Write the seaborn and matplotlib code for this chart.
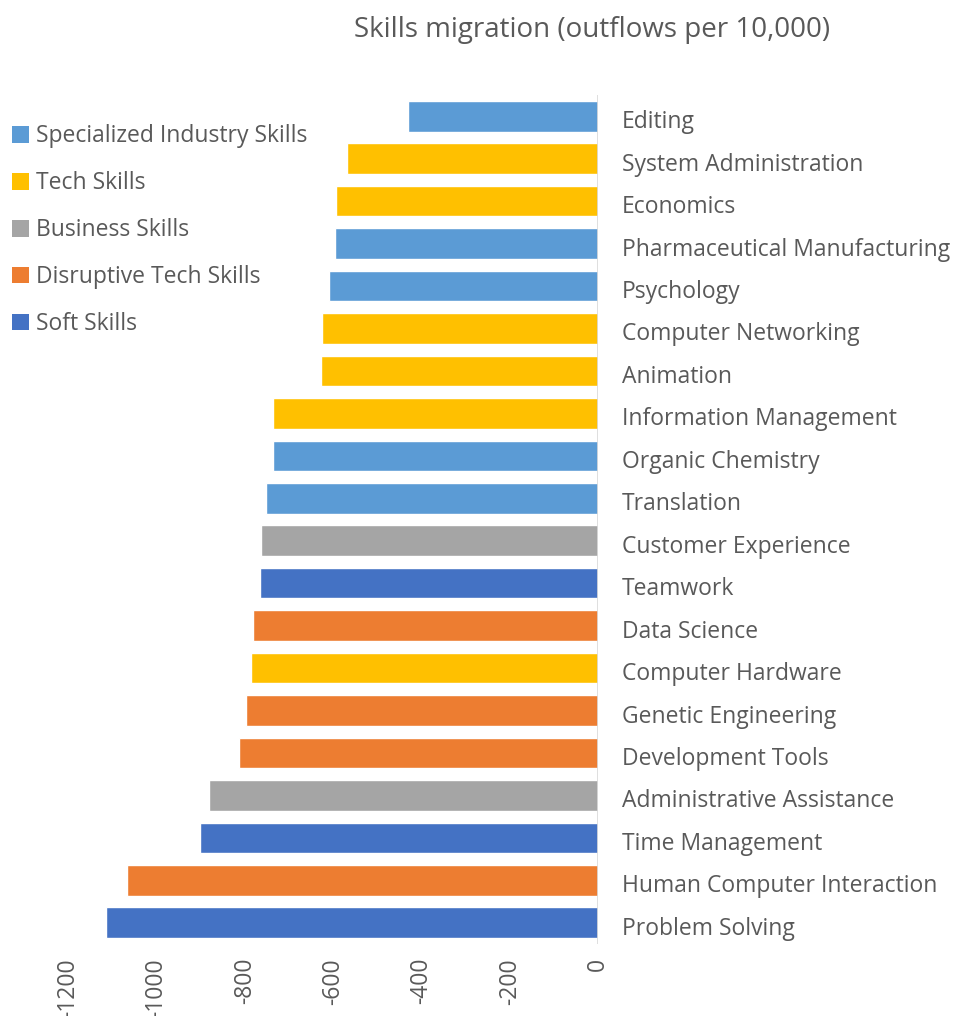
import matplotlib
matplotlib.use("Agg")
import matplotlib.pyplot as plt
import matplotlib.transforms as mtransforms
from matplotlib.patches import Patch
import seaborn as sns
import pandas as pd

skills = [
    "Editing", "System Administration", "Economics", "Pharmaceutical Manufacturing",
    "Psychology", "Computer Networking", "Animation", "Information Management",
    "Organic Chemistry", "Translation", "Customer Experience", "Teamwork",
    "Data Science", "Computer Hardware", "Genetic Engineering", "Development Tools",
    "Administrative Assistance", "Time Management", "Human Computer Interaction",
    "Problem Solving",
]
outflows = [
    -431, -569, -594, -596, -610, -624, -628, -735, -735, -751,
    -764, -766, -780, -785, -798, -812, -880, -900, -1066, -1113,
]
groups = [
    "Specialized Industry Skills", "Tech Skills", "Tech Skills", "Specialized Industry Skills",
    "Specialized Industry Skills", "Tech Skills", "Tech Skills", "Tech Skills",
    "Specialized Industry Skills", "Specialized Industry Skills", "Business Skills", "Soft Skills",
    "Disruptive Tech Skills", "Tech Skills", "Disruptive Tech Skills", "Disruptive Tech Skills",
    "Business Skills", "Soft Skills", "Disruptive Tech Skills", "Soft Skills",
]
group_order = ["Specialized Industry Skills", "Tech Skills", "Business Skills",
               "Disruptive Tech Skills", "Soft Skills"]
group_colors = ["#5B9BD5", "#FFC000", "#A5A5A5", "#ED7D31", "#4472C4"]
x_ticks = [-1200, -1000, -800, -600, -400, -200, 0]

df = pd.DataFrame({"skill": skills, "outflow": outflows, "group": groups})

sns.set_theme(style="white")
plt.rcParams["font.family"] = ["Open Sans", "DejaVu Sans"]
text_color = "#595959"

fig = plt.figure(figsize=(9.57, 10.16), dpi=100)
ax = fig.add_axes([68 / 957, 1 - 944 / 1016, (598 - 68) / 957, (944 - 95) / 1016])

sns.barplot(data=df, x="outflow", y="skill", hue="group", hue_order=group_order,
            palette=group_colors, dodge=False, width=0.72, order=skills,
            orient="h", ax=ax, legend=False, saturation=1)

ax.set_xlim(-1200, 0)
ax.set_ylim(len(skills) - 0.5, -0.5)
ax.set_xticks(x_ticks)
ax.set_xticklabels([str(t) for t in x_ticks], rotation=90, fontsize=16.5, color=text_color)
ax.yaxis.tick_right()
ax.tick_params(axis="y", length=0, pad=17, labelsize=16.5, labelcolor=text_color)
ax.tick_params(axis="x", length=0, pad=10)
shift_down = mtransforms.ScaledTranslation(0, -3 / 100, fig.dpi_scale_trans)
for lbl in ax.get_yticklabels():
    lbl.set_horizontalalignment("left")
    lbl.set_transform(lbl.get_transform() + shift_down)
ax.set_xlabel("")
ax.set_ylabel("")
for s in ["top", "bottom", "left", "right"]:
    ax.spines[s].set_visible(False)
ax.axvline(0, color="#D9D9D9", lw=1.2, zorder=3)

handles = [Patch(facecolor=c, edgecolor="none") for c in group_colors]
fig.legend(handles, group_order, loc="upper left", bbox_to_anchor=(-0.007, 1 - 106 / 1016),
           frameon=False, fontsize=16.5, labelcolor=text_color, handlelength=0.75,
           handleheight=0.75, handletextpad=0.3, labelspacing=1.0, borderaxespad=0.4)

fig.text(592 / 957, 1 - 30 / 1016, "Skills migration (outflows per 10,000)",
         ha="center", va="center", fontsize=20, color=text_color)

fig.savefig("out.png", dpi=100)
